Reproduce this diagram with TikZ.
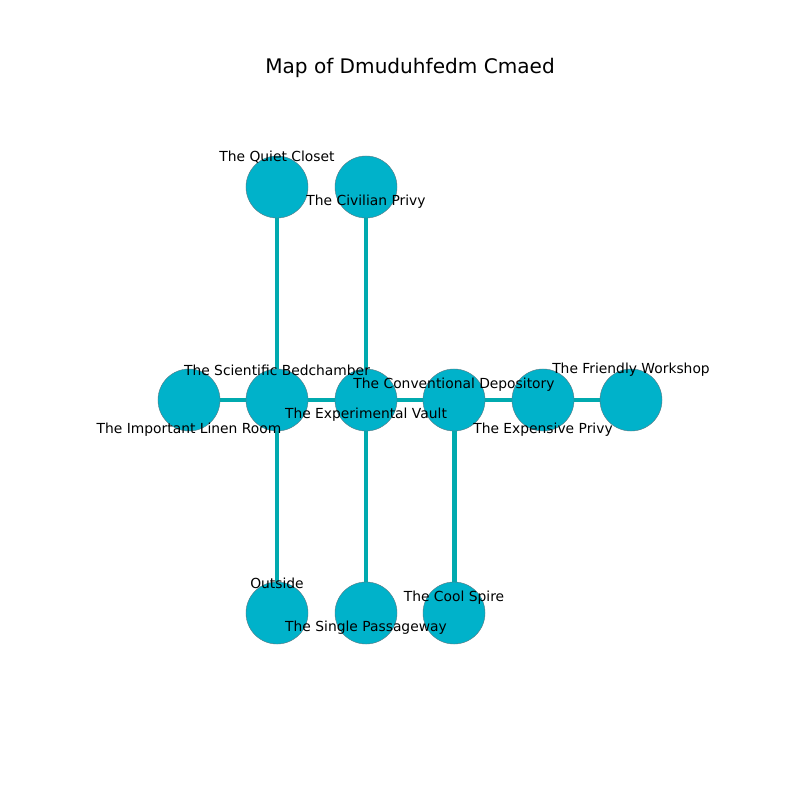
\documentclass[tikz,border=0pt]{standalone}
\usepackage{fontspec}
\setmainfont{DejaVu Sans}
\definecolor{nodefill}{RGB}{0,178,202}
\definecolor{edgecol}{RGB}{0,170,175}
\definecolor{nodeline}{RGB}{90,120,130}
\pgfdeclarelayer{bg}
\pgfsetlayers{bg,main}
\tikzset{
  room/.style={circle, fill=nodefill, draw=nodeline, line width=0.3pt, minimum size=0.62in, inner sep=0pt},
  link/.style={draw=edgecol, line width=3.6pt},
  lbl/.style={font=\fontsize{10}{12}\selectfont, inner sep=0pt, text=black},
}
\begin{document}
\begin{tikzpicture}[x=0.01in, y=-0.01in]
\useasboundingbox (0,0) rectangle (800,800);
\node[font=\fontsize{14.5}{17}\selectfont] (title) at (410,68) {Map of Dmuduhfedm Cmaed};
% nodes
\node[room] (quiet) at (277,187) {};
\node[room] (civil) at (366,187) {};
\node[room] (linen) at (189,400) {};
\node[room] (sci) at (277,400) {};
\node[room] (vault) at (366,400) {};
\node[room] (conv) at (454,400) {};
\node[room] (expp) at (543,400) {};
\node[room] (friend) at (631,400) {};
\node[room] (outside) at (277,613) {};
\node[room] (single) at (366,613) {};
\node[room] (cool) at (454,613) {};
% edges behind nodes
\begin{pgfonlayer}{bg}
\draw[link] (quiet.center) -- (sci.center);
\draw[link] (civil.center) -- (vault.center);
\draw[link] (linen.center) -- (sci.center);
\draw[link] (sci.center) -- (vault.center);
\draw[link] (vault.center) -- (conv.center);
\draw[link] (conv.center) -- (expp.center);
\draw[link] (expp.center) -- (friend.center);
\draw[link] (sci.center) -- (outside.center);
\draw[link] (vault.center) -- (single.center);
\draw[link] (conv.center) -- (cool.center);
\end{pgfonlayer}
% labels
\node[lbl] (lquiet) at (277,157) {The Quiet Closet};
\node[lbl] (lcivil) at (366,202) {The Civilian Privy};
\node[lbl] (lsci) at (277,370) {The Scientific Bedchamber};
\node[lbl] (llinen) at (189,430) {The Important Linen Room};
\node[lbl] (lconv) at (454,385) {The Conventional Depository};
\node[lbl] (lvault) at (366,415) {The Experimental Vault};
\node[lbl] (lexpp) at (543,430) {The Expensive Privy};
\node[lbl] (lfriend) at (631,370) {The Friendly Workshop};
\node[lbl] (loutside) at (277,583) {Outside};
\node[lbl] (lsingle) at (366,628) {The Single Passageway};
\node[lbl] (lcool) at (454,598) {The Cool Spire};
\end{tikzpicture}
\end{document}
